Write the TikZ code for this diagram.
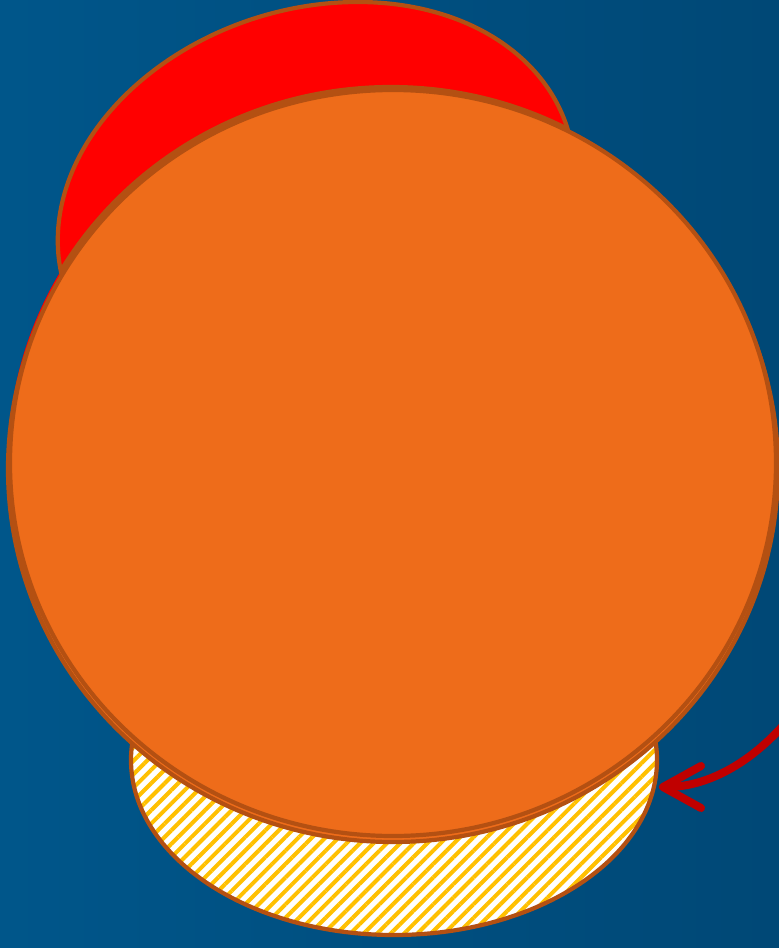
\documentclass[tikz,border=0pt]{standalone}
\usetikzlibrary{arrows.meta,patterns.meta}
\definecolor{bgL}{RGB}{0,86,138}
\definecolor{bgR}{RGB}{0,72,118}
\definecolor{orangeF}{RGB}{238,108,26}
\definecolor{brownS}{RGB}{180,80,18}
\definecolor{hatchY}{RGB}{255,192,0}
\definecolor{arrowR}{RGB}{192,0,0}
\tikzset{
  outline/.style={draw=brownS, line width=4.2pt},
  disc/.style={outline, fill=orangeF},
  redell/.style={shift={(316,207)}, cm={41.8,205,-254.8,0,(0,0)}},
  pointer/.style={draw=arrowR, line width=8pt, line cap=round,
    -{Straight Barb[length=38pt, width=42pt, line cap=round, round]}},
}
\begin{document}
\begin{tikzpicture}[x=1pt,y=-1pt]
\useasboundingbox (0,0) rectangle (779,948);
\clip (0,0) rectangle (779,948);
\shade[left color=bgL, right color=bgR] (0,0) rectangle (779,948);
% red crescent
\fill[red, even odd rule]
  [redell] (0,0) circle (1)
  [reset cm] (391,460) ellipse (383 and 373);
\begin{scope}[redell]
  \clip (0,0) circle (1);
  \draw[outline, reset cm] (391,460) ellipse (383 and 373);
\end{scope}
\begin{scope}[even odd rule]
  \clip (-10,-10) rectangle (800,960) (391,460) ellipse (381 and 371);
  \draw[outline, redell] (0,0) circle (1);
\end{scope}
% hatched base
\fill[white] (394,760) ellipse (263 and 175);
\fill[pattern={Lines[angle=45, distance=9.5pt, line width=4pt]}, pattern color=hatchY]
  (394,760) ellipse (263 and 175);
\draw[outline] (394,760) ellipse (263 and 175);
% shell and front disc
\draw[disc] (393,469) ellipse (385 and 373);
\draw[disc] (393,463) ellipse (383 and 373);
% arrow
\coordinate (src) at (800,705);
\coordinate (tip) at (659,787);
\draw[pointer] (src) .. controls (755,765) and (705,787) .. (tip);
\end{tikzpicture}
\end{document}
